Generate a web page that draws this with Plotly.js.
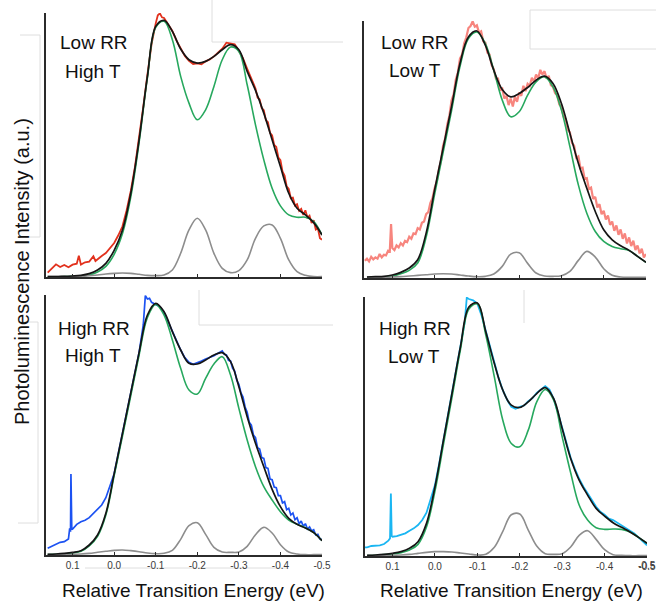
<!DOCTYPE html>
<html>
<head>
<meta charset="utf-8">
<script src="https://cdn.plot.ly/plotly-3.0.1.min.js"></script>
<style>
  html, body { margin: 0; padding: 0; background: #fff; }
  #chart { width: 656px; height: 603px; }
</style>
</head>
<body>
<div id="chart"></div>
<script>
// Energy grid (eV) shared by the fitted curves
const ENERGY_FIT = [0.16, 0.14, 0.12, 0.10, 0.08, 0.06, 0.04, 0.02, 0.00,
  -0.02, -0.04, -0.06, -0.08, -0.10, -0.12, -0.14, -0.16, -0.18, -0.20,
  -0.22, -0.24, -0.26, -0.28, -0.30, -0.32, -0.34, -0.36, -0.38, -0.40,
  -0.42, -0.44, -0.46, -0.48, -0.50];

const TICK_VALUES = [0.1, 0.0, -0.1, -0.2, -0.3, -0.4, -0.5];
const TICK_LABELS = ['0.1', '0.0', '-0.1', '-0.2', '-0.3', '-0.4', '-0.5'];

// ---- Low RR, High T ----
const lowRRHighT_E = [0.16,0.15,0.14,0.13,0.12,0.11,0.10,0.09,0.085,0.08,
  0.07,0.06,0.05,0.045,0.04,0.03,0.02,0.01,0.00,-0.01,
  -0.02,-0.03,-0.04,-0.05,-0.06,-0.07,-0.08,-0.09,-0.10,-0.105,
  -0.11,-0.115,-0.12,-0.13,-0.14,-0.15,-0.16,-0.17,-0.18,-0.19,
  -0.20,-0.21,-0.22,-0.23,-0.24,-0.25,-0.26,-0.27,-0.28,-0.29,
  -0.30,-0.31,-0.32,-0.33,-0.34,-0.345,-0.35,-0.355,-0.36,-0.365,
  -0.37,-0.375,-0.38,-0.385,-0.39,-0.395,-0.40,-0.405,-0.41,-0.415,
  -0.42,-0.425,-0.43,-0.435,-0.44,-0.445,-0.45,-0.455,-0.46,-0.465,
  -0.47,-0.475,-0.48,-0.485,-0.49,-0.495,-0.50];
const lowRRHighT_PL = [13,26,38,30,36,29,37,40,64,37,
  44,46,62,48,54,63,72,88,102,125,
  152,200,258,330,415,510,606,698,760,784,
  790,778,776,757,737,708,684,662,648,638,
  640,637,646,652,661,672,684,702,700,697,
  678,655,624,592,565,538,532,506,500,470,
  464,432,424,396,390,358,350,316,304,272,
  264,236,238,214,218,198,204,186,200,178,
  184,162,170,142,146,116,112];
const lowRRHighT_fit = [1,1,2,3,5,10,21,41,80,141,251,411,601,751,769,736,683,651,641,
  646,661,681,696,681,616,559,491,411,331,251,206,186,163,126];
const lowRRHighT_main = [0,0,1,2,3,6,15,32,68,130,240,403,597,748,766,711,601,521,471,
  501,571,651,689,676,576,456,351,266,213,186,179,179,166,126];
const lowRRHighT_side = [1,1,1,1,2,4,6,9,11,12,11,8,5,4,6,21,71,141,176,
  141,71,26,13,19,51,116,153,156,116,51,16,5,1,1];

// ---- Low RR, Low T ----
const lowRRLowT_E = [0.165,0.16,0.155,0.15,0.145,0.14,0.135,0.13,0.125,0.12,
  0.115,0.11,0.106,0.103,0.100,0.095,0.09,0.085,0.08,0.075,
  0.07,0.065,0.06,0.055,0.05,0.045,0.04,0.035,0.03,0.025,
  0.02,0.015,0.01,0.005,0.00,-0.005,-0.01,-0.015,-0.02,-0.025,
  -0.03,-0.035,-0.04,-0.045,-0.05,-0.055,-0.06,-0.065,-0.07,-0.075,
  -0.08,-0.085,-0.09,-0.095,-0.10,-0.105,-0.11,-0.115,-0.12,-0.125,
  -0.13,-0.135,-0.14,-0.145,-0.15,-0.155,-0.16,-0.165,-0.17,-0.175,
  -0.18,-0.185,-0.19,-0.195,-0.20,-0.205,-0.21,-0.215,-0.22,-0.225,
  -0.23,-0.235,-0.24,-0.245,-0.25,-0.255,-0.26,-0.265,-0.27,-0.275,
  -0.28,-0.285,-0.29,-0.295,-0.30,-0.305,-0.31,-0.315,-0.32,-0.325,
  -0.33,-0.335,-0.34,-0.345,-0.35,-0.355,-0.36,-0.365,-0.37,-0.375,
  -0.38,-0.385,-0.39,-0.395,-0.40,-0.405,-0.41,-0.415,-0.42,-0.425,
  -0.43,-0.435,-0.44,-0.445,-0.45,-0.455,-0.46,-0.465,-0.47,-0.475,
  -0.48,-0.485,-0.49,-0.495,-0.50];
const lowRRLowT_PL = [52,58,50,64,56,62,58,72,62,70,
  68,82,80,162,90,84,98,92,105,98,
  112,108,124,118,134,132,150,146,166,170,
  192,198,226,240,270,290,326,352,398,420,
  462,488,534,552,596,618,660,672,706,724,
  752,758,772,756,760,738,742,712,708,678,
  672,640,628,600,600,566,570,540,548,520,
  540,516,546,530,558,548,578,562,584,578,
  602,590,612,600,626,612,622,600,608,580,
  575,556,550,522,515,485,478,446,438,406,
  398,362,366,330,332,298,300,268,272,238,
  244,212,222,192,202,176,188,160,170,142,
  158,130,146,118,134,104,122,96,112,84,
  98,74,88,62,72];
const lowRRLowT_fit = [3,4,5,9,17,30,55,135,265,390,515,645,725,743,700,625,567,545,555,
  573,595,607,585,525,435,345,270,200,145,115,97,83,65,47];
const lowRRLowT_main = [1,2,3,6,13,23,45,123,252,377,503,636,720,740,705,625,535,485,500,
  550,590,605,575,505,395,280,195,140,110,95,88,83,65,47];
const lowRRLowT_side = [2,2,2,3,4,6,8,10,12,13,12,9,6,4,5,12,35,72,76,
  44,15,6,5,7,20,53,80,63,28,8,3,2,2,2];

// ---- High RR, High T ----
const highRRHighT_E = [0.16,0.15,0.14,0.13,0.12,0.11,0.107,0.105,0.104,0.102,
  0.10,0.09,0.08,0.07,0.06,0.05,0.04,0.03,0.02,0.01,
  0.00,-0.01,-0.02,-0.03,-0.04,-0.05,-0.06,-0.07,-0.075,-0.08,
  -0.085,-0.09,-0.10,-0.11,-0.12,-0.13,-0.14,-0.15,-0.16,-0.17,
  -0.18,-0.19,-0.20,-0.21,-0.22,-0.23,-0.24,-0.25,-0.26,-0.265,
  -0.27,-0.275,-0.28,-0.285,-0.29,-0.295,-0.30,-0.305,-0.31,-0.315,
  -0.32,-0.325,-0.33,-0.335,-0.34,-0.345,-0.35,-0.355,-0.36,-0.365,
  -0.37,-0.375,-0.38,-0.385,-0.39,-0.395,-0.40,-0.405,-0.41,-0.415,
  -0.42,-0.425,-0.43,-0.435,-0.44,-0.445,-0.45,-0.455,-0.46,-0.465,
  -0.47,-0.475,-0.48,-0.485,-0.49,-0.495,-0.50];
const highRRHighT_PL = [20,26,32,38,40,48,80,70,243,80,
  78,92,100,104,112,124,138,150,172,205,
  244,305,365,425,487,548,608,690,778,768,
  770,758,752,745,728,700,668,640,615,592,
  578,572,576,582,588,592,598,605,612,602,
  600,584,582,560,552,524,512,486,474,444,
  428,398,390,360,352,322,318,292,290,262,
  260,228,226,204,202,178,178,156,160,136,
  140,120,126,106,112,94,102,86,94,78,
  84,72,76,60,62,48,46];
const highRRHighT_fit = [2,3,5,8,13,30,60,125,244,365,487,608,720,755,730,670,615,575,573,
  585,600,607,580,505,415,335,265,197,145,110,92,81,67,43];
const highRRHighT_main = [1,2,3,6,11,27,56,120,238,357,478,600,713,752,720,645,560,495,483,
  530,573,595,540,440,345,265,205,165,130,105,92,82,67,43];
const highRRHighT_side = [1,1,1,2,3,5,8,11,14,15,13,10,6,4,5,14,47,88,97,
  62,23,9,8,9,26,61,83,66,31,9,3,1,1,1];

// ---- High RR, Low T ----
const highRRLowT_E = [0.165,0.16,0.15,0.14,0.13,0.12,0.11,0.106,0.104,0.102,
  0.10,0.09,0.08,0.07,0.06,0.05,0.04,0.03,0.02,0.01,
  0.00,-0.01,-0.02,-0.03,-0.04,-0.05,-0.06,-0.07,-0.075,-0.08,
  -0.09,-0.10,-0.11,-0.12,-0.13,-0.14,-0.15,-0.16,-0.17,-0.18,
  -0.19,-0.20,-0.21,-0.22,-0.23,-0.24,-0.25,-0.26,-0.27,-0.28,
  -0.29,-0.30,-0.31,-0.32,-0.33,-0.34,-0.35,-0.36,-0.37,-0.38,
  -0.39,-0.40,-0.41,-0.42,-0.43,-0.44,-0.45,-0.46,-0.47,-0.48,
  -0.49,-0.50];
const highRRLowT_PL = [26,26,30,30,32,36,46,53,188,60,
  58,60,63,68,76,83,93,108,130,173,
  213,278,348,418,488,560,630,700,776,772,
  768,758,722,676,625,578,535,498,470,448,
  442,448,452,465,474,490,500,510,500,472,
  430,385,338,295,262,232,208,186,168,148,
  133,124,112,108,100,92,86,76,68,56,
  45,32];
const highRRLowT_fit = [2,3,5,8,13,23,43,98,208,348,488,628,748,760,673,578,498,453,446,
  463,488,506,473,383,293,228,183,143,120,100,86,72,56,38];
const highRRLowT_main = [1,2,4,6,10,18,35,87,195,335,476,619,742,757,663,538,408,338,328,
  378,463,500,468,358,250,153,108,85,80,81,80,72,56,38];
const highRRLowT_side = [1,1,1,2,3,5,8,11,13,13,12,9,6,3,5,26,74,124,126,
  78,30,7,5,7,27,62,76,50,19,4,2,1,1,1];

// Panel labels
const PANEL_LABELS = [['Low RR', 'High T'], ['Low RR', 'Low T'], ['High RR', 'High T'], ['High RR', 'Low T']];

const W = 656, H = 603;
const fx = p => p / W;          // pixel -> paper (x)
const fy = p => 1 - p / H;      // pixel -> paper (y)

const COLOR_FIT = '#151515', COLOR_MAIN = '#27a85e', COLOR_SIDE = '#8d8d8d';
const TICK_FONT = { size: 10, color: '#3a3a3a' };

const panels = [
  { ax: '', E: lowRRHighT_E, PL: lowRRHighT_PL, fit: lowRRHighT_fit, main: lowRRHighT_main, side: lowRRHighT_side,
    color: '#e2311d', width: 1.8, xpx: [46, 322], ypx: [13, 277], xr: [0.164, -0.5], ymax: 791, labels: false,
    tx: [94, 93], ty: [42, 71] },
  { ax: '2', E: lowRRLowT_E, PL: lowRRLowT_PL, fit: lowRRLowT_fit, main: lowRRLowT_main, side: lowRRLowT_side,
    color: '#f7857e', width: 2.2, xpx: [364, 646], ypx: [21, 278], xr: [0.167, -0.5], ymax: 773, labels: false,
    tx: [415, 415], ty: [42, 70] },
  { ax: '3', E: highRRHighT_E, PL: highRRHighT_PL, fit: highRRHighT_fit, main: highRRHighT_main, side: highRRHighT_side,
    color: '#1c52f2', width: 1.7, xpx: [46, 322], ypx: [295, 555], xr: [0.164, -0.5], ymax: 780, labels: true,
    tx: [94, 93], ty: [328, 355] },
  { ax: '4', E: highRRLowT_E, PL: highRRLowT_PL, fit: highRRLowT_fit, main: highRRLowT_main, side: highRRLowT_side,
    color: '#1ab6f2', width: 1.8, xpx: [365, 647], ypx: [297, 556], xr: [0.165, -0.5], ymax: 778, labels: true,
    tx: [415, 414], ty: [328, 356] }
];

const traces = [];
const layout = {
  width: W, height: H,
  margin: { l: 0, r: 0, t: 0, b: 0 },
  paper_bgcolor: '#ffffff', plot_bgcolor: 'rgba(0,0,0,0)',
  showlegend: false,
  font: { family: 'Liberation Sans, Arial, sans-serif', color: '#111' },
  annotations: [], shapes: []
};

panels.forEach((p, i) => {
  const xa = 'x' + p.ax, ya = 'y' + p.ax;
  traces.push({ x: p.E, y: p.PL, xaxis: xa, yaxis: ya, type: 'scatter', mode: 'lines',
    line: { color: p.color, width: p.width }, hoverinfo: 'skip' });
  traces.push({ x: ENERGY_FIT, y: p.main, xaxis: xa, yaxis: ya, type: 'scatter', mode: 'lines',
    line: { color: COLOR_MAIN, width: 1.6, shape: 'spline', smoothing: 1 } });
  traces.push({ x: ENERGY_FIT, y: p.side, xaxis: xa, yaxis: ya, type: 'scatter', mode: 'lines',
    line: { color: COLOR_SIDE, width: 1.6, shape: 'spline', smoothing: 1 } });
  traces.push({ x: ENERGY_FIT, y: p.fit, xaxis: xa, yaxis: ya, type: 'scatter', mode: 'lines',
    line: { color: COLOR_FIT, width: 1.7, shape: 'spline', smoothing: 1 } });

  layout['xaxis' + p.ax] = {
    domain: [fx(p.xpx[0]), fx(p.xpx[1])], anchor: ya, range: p.xr,
    showline: true, linecolor: '#2b2b2b', linewidth: 2,
    ticks: 'inside', ticklen: 3, tickwidth: 1, tickcolor: '#2b2b2b',
    tickmode: 'array', tickvals: TICK_VALUES, ticktext: TICK_LABELS,
    showticklabels: p.labels, ticklabeloverflow: 'allow', tickfont: TICK_FONT,
    showgrid: false, zeroline: false, fixedrange: true
  };
  layout['yaxis' + p.ax] = {
    domain: [fy(p.ypx[1]), fy(p.ypx[0])], anchor: xa, range: [0, p.ymax],
    showline: true, linecolor: '#2b2b2b', linewidth: 2,
    ticks: '', showticklabels: false, showgrid: false, zeroline: false, fixedrange: true
  };

  PANEL_LABELS[i].forEach((t, k) => {
    layout.annotations.push({ text: t, xref: 'paper', yref: 'paper', x: fx(p.tx[k]), y: fy(p.ty[k]),
      xanchor: 'center', yanchor: 'middle', showarrow: false, font: { size: 19, color: '#111' } });
  });
});

// The last tick label of the lower-right panel runs past the page edge, where
// the axis drops it, so it is placed on that axis as an annotation instead.
layout.annotations.push({ text: TICK_LABELS[TICK_LABELS.length - 1], xref: 'x4', yref: 'paper',
  x: TICK_VALUES[TICK_VALUES.length - 1], y: fy(565.5), xanchor: 'center', yanchor: 'middle',
  showarrow: false, font: TICK_FONT });

// Axis titles
layout.annotations.push({ text: 'Photoluminescence Intensity (a.u.)', xref: 'paper', yref: 'paper',
  x: fx(22), y: fy(272), textangle: -90, xanchor: 'center', yanchor: 'middle', showarrow: false,
  font: { size: 20, color: '#111' } });
[193, 511].forEach(cx => {
  layout.annotations.push({ text: 'Relative Transition Energy (eV)', xref: 'paper', yref: 'paper',
    x: fx(cx), y: fy(590), xanchor: 'center', yanchor: 'middle', showarrow: false,
    font: { size: 19, color: '#111' } });
});

// Faint panel-edge frames
const frameLines = [
  [212, 0, 212, 42], [212, 42, 330, 42],
  [20, 35, 40, 35], [40, 35, 40, 237], [20, 237, 40, 237],
  [530, 10, 530, 49], [530, 10, 656, 10], [530, 49, 656, 49], [330, 42, 343, 42],
  [199, 290, 199, 325], [199, 325, 333, 325],
  [18, 322, 38, 322], [38, 322, 38, 523], [18, 523, 38, 523],
  [85, 568, 287, 568],
  [524, 290, 524, 323]
];
frameLines.forEach(l => {
  layout.shapes.push({ type: 'line', xref: 'paper', yref: 'paper',
    x0: fx(l[0]), y0: fy(l[1]), x1: fx(l[2]), y1: fy(l[3]),
    line: { color: '#dedede', width: 1 }, layer: 'below' });
});

Plotly.newPlot('chart', traces, layout, { staticPlot: true, displayModeBar: false });
</script>
</body>
</html>
